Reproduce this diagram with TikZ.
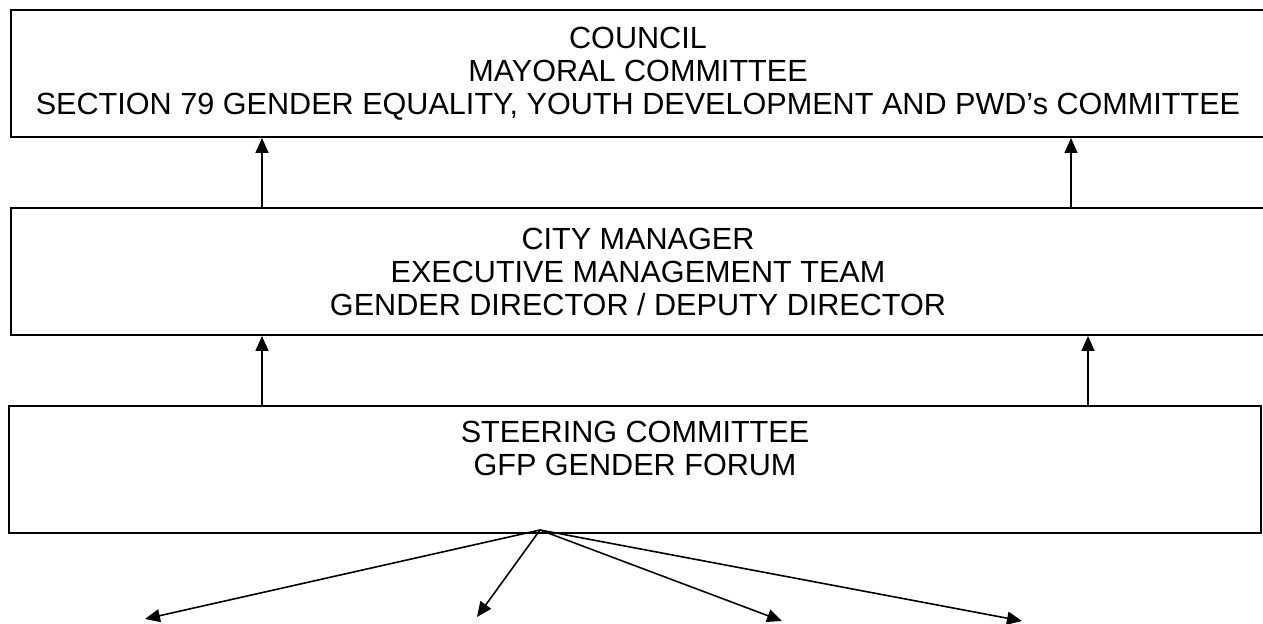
\documentclass[tikz,border=0pt]{standalone}
\usepackage{fontspec}
\setmainfont{Liberation Sans}
\usetikzlibrary{arrows.meta,positioning}

\begin{document}
\begin{tikzpicture}[x=0.5pt,y=-0.5pt,
		orgbox/.style={draw, line width=1pt, inner sep=0pt, minimum height=63.5pt, align=center,
			font=\fontsize{15.3}{16.5}\selectfont},
		linkarrow/.style={-{Triangle[length=7.5pt,width=6.5pt]}, line width=0.8pt}]
		\useasboundingbox (0,0) rectangle (1263,624);
		\clip (0,0) rectangle (1263,624);
		% the three levels
		\node [orgbox, minimum width=627pt] (council) at (638,73.5) {COUNCIL\\MAYORAL COMMITTEE\\SECTION 79 GENDER EQUALITY, YOUTH DEVELOPMENT AND PWD’s COMMITTEE};
		\node [orgbox, minimum width=627pt] (manager) at (638,271.5) {CITY MANAGER\\EXECUTIVE MANAGEMENT TEAM\\GENDER DIRECTOR / DEPUTY DIRECTOR};
		\node [orgbox, minimum width=626pt] (steering) at (635,470) {STEERING COMMITTEE\\GFP GENDER FORUM\\\strut};
		% reporting lines
		\coordinate (m1) at ([xshift=126pt]manager.north west);
		\coordinate (m2) at ([xshift=530.5pt]manager.north west);
		\coordinate (s1) at ([xshift=127pt]steering.north west);
		\coordinate (s2) at ([xshift=540pt]steering.north west);
		\draw [linkarrow] (m1) -- (m1 |- council.south);
		\draw [linkarrow] (m2) -- (m2 |- council.south);
		\draw [linkarrow] (s1) -- (s1 |- manager.south);
		\draw [linkarrow] (s2) -- (s2 |- manager.south);
		% fan out below the forum
		\coordinate (hub) at (540,530);
		\coordinate (g1) at (145,619);
		\coordinate (g2) at (477,617);
		\coordinate (g3) at (782,621);
		\coordinate (g4) at (1022,621);
		\foreach \g in {g1,g2,g3,g4}
			\draw [linkarrow] (hub) -- (\g);
	\end{tikzpicture}
\end{document}
